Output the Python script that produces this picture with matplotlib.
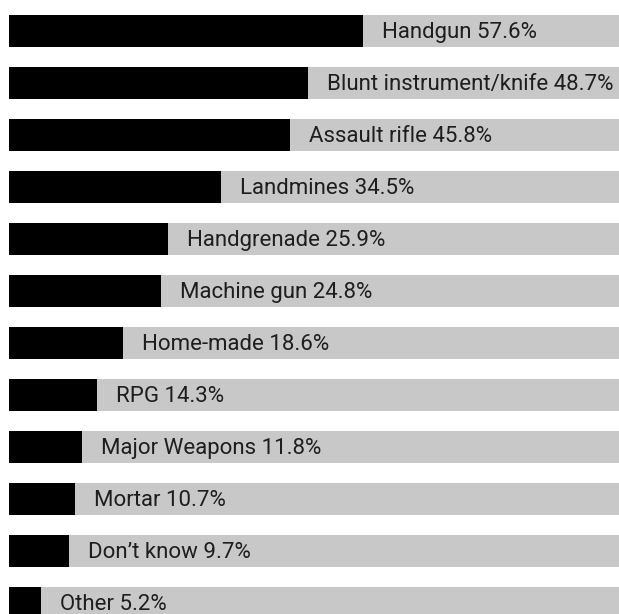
import matplotlib
matplotlib.use("Agg")
import matplotlib.pyplot as plt

# weapon types and share of respondents (%)
weapons = ["Handgun", "Blunt instrument/knife", "Assault rifle", "Landmines",
           "Handgrenade", "Machine gun", "Home-made", "RPG", "Major Weapons",
           "Mortar", "Don\u2019t know", "Other"]
shares = [57.6, 48.7, 45.8, 34.5, 25.9, 24.8, 18.6, 14.3, 11.8, 10.7, 9.7, 5.2]

W, H = 619, 614
fig = plt.figure(figsize=(W / 100, H / 100), dpi=100)

# axes run from the bar start to where 100% falls (slightly past the edge)
x0, x100 = 9, 623.6
ax = fig.add_axes([x0 / W, 0, (x100 - x0) / W, 1])
ax.set_xlim(0, 100)
pitch, first = 52, 31
ax.set_ylim((H - first) / pitch, -first / pitch)
ax.axis("off")

ys = range(len(weapons))
ax.barh(ys, [100] * len(weapons), height=32 / pitch, color="#c8c8c8")
ax.barh(ys, shares, height=32 / pitch, color="black")

px = 100 / (x100 - x0)  # data units per pixel
for y, name, v in zip(ys, weapons, shares):
    ax.text(v + 19 * px, y + 0.03, f"{name} {v}%", va="center", ha="left",
            fontsize=16, family="Roboto", color="#1e1e1e", clip_on=False)

fig.savefig("out.png", dpi=100)
